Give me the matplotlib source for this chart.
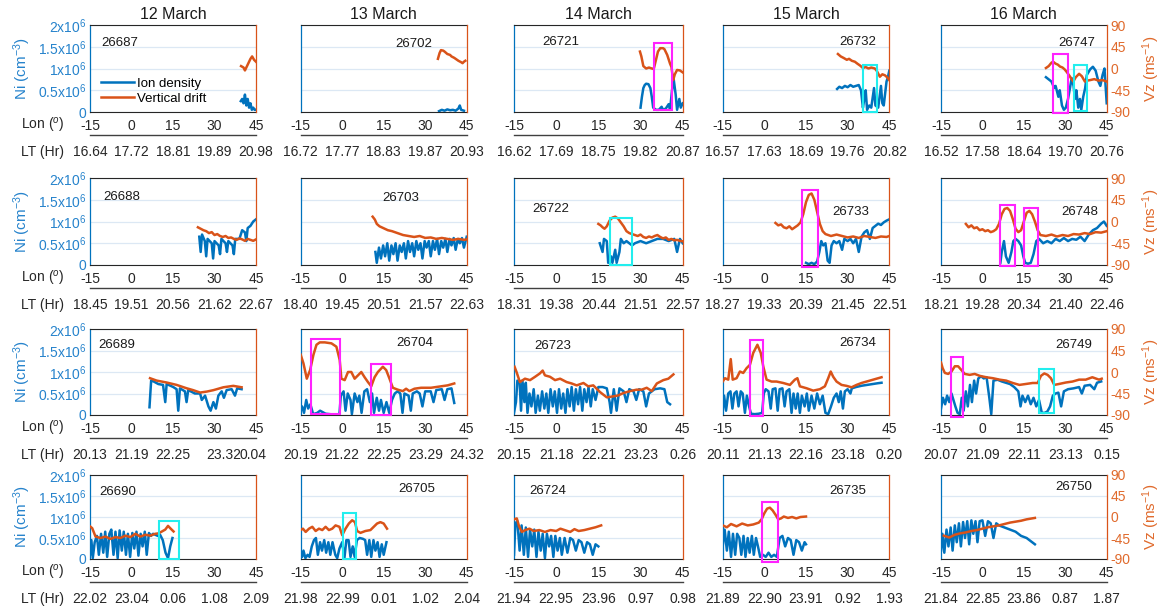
import numpy as np
import matplotlib.pyplot as plt
from matplotlib.patches import Rectangle

plt.rcParams['font.family'] = ['Liberation Sans', 'DejaVu Sans']
plt.rcParams['mathtext.fontset'] = 'custom'
plt.rcParams['mathtext.rm'] = 'Liberation Sans'
plt.rcParams['mathtext.it'] = 'Liberation Sans:italic'

# ---------------------------------------------------------------
# data: (lon, Ni [1e6 cm^-3]) and (lon, Vz [m/s]) per orbit
# ---------------------------------------------------------------
days = ['12 March', '13 March', '14 March', '15 March', '16 March']
orbits = [[26687, 26702, 26721, 26732, 26747],
          [26688, 26703, 26722, 26733, 26748],
          [26689, 26704, 26723, 26734, 26749],
          [26690, 26705, 26724, 26735, 26750]]
lon_ticks = [-15, 0, 15, 30, 45]
lon_labels = ['-15', '0', '15', '30', '45']
ni_ticks = [0, 0.5, 1, 1.5, 2]
ni_labels = ['0', '0.5x10$^6$', '1x10$^6$', '1.5x10$^6$', '2x10$^6$']
vz_ticks = [-90, -45, 0, 45, 90]
vz_labels = ['-90', '-45', '0', '45', '90']

lt_labels = {
    26687: ['16.64', '17.72', '18.81', '19.89', '20.98'],
    26702: ['16.72', '17.77', '18.83', '19.87', '20.93'],
    26721: ['16.62', '17.69', '18.75', '19.82', '20.87'],
    26732: ['16.57', '17.63', '18.69', '19.76', '20.82'],
    26747: ['16.52', '17.58', '18.64', '19.70', '20.76'],
    26688: ['18.45', '19.51', '20.56', '21.62', '22.67'],
    26703: ['18.40', '19.45', '20.51', '21.57', '22.63'],
    26722: ['18.31', '19.38', '20.44', '21.51', '22.57'],
    26733: ['18.27', '19.33', '20.39', '21.45', '22.51'],
    26748: ['18.21', '19.28', '20.34', '21.40', '22.46'],
    26689: ['20.13', '21.19', '22.25', '23.32', '0.04'],
    26704: ['20.19', '21.22', '22.25', '23.29', '24.32'],
    26723: ['20.15', '21.18', '22.21', '23.23', '0.26'],
    26734: ['20.11', '21.13', '22.16', '23.18', '0.20'],
    26749: ['20.07', '21.09', '22.11', '23.13', '0.15'],
    26690: ['22.02', '23.04', '0.06', '1.08', '2.09'],
    26705: ['21.98', '22.99', '0.01', '1.02', '2.04'],
    26724: ['21.94', '22.95', '23.96', '0.97', '0.98'],
    26735: ['21.89', '22.90', '23.91', '0.92', '1.93'],
    26750: ['21.84', '22.85', '23.86', '0.87', '1.87'],
}

# ---- row 1 ----
ni_26687 = [(39.5, 0.25), (40, 0.3), (40.5, 0.2), (41, 0.4), (41.5, 0.15), (42, 0.3),
            (42.5, 0.1), (43, 0.2), (43.5, 0.05), (44, 0.1), (44.5, 0.05), (45, 0.05)]
vz_26687 = [(39.6, 5), (40.5, 2), (41, -4), (42, 8), (43, 20), (43.6, 25), (44.3, 18), (45, 14)]

ni_26702 = [(35, 0.02), (36, 0.05), (37, 0.03), (38, 0.06), (39, 0.04), (40, 0.05),
            (41, 0.03), (42, 0.08), (42.5, 0.15), (43, 0.05), (44, 0.03)]
vz_26702 = [(34.6, 20), (35.2, 32), (35.7, 38), (36.5, 37), (37, 35), (38, 30), (39, 28),
            (39.5, 25), (40.5, 22), (41, 20), (42, 16), (43, 13), (43.5, 11), (44, 14), (44.5, 16)]

ni_26721 = [(30, 0.1), (30.5, 0.35), (31, 0.55), (31.5, 0.62), (32, 0.65), (32.8, 0.64),
            (33.5, 0.55), (34, 0.35), (34.5, 0.1), (35.5, 0.05), (36.5, 0.05), (37.5, 0.12),
            (38, 0.05), (39, 0.08), (40, 0.18), (40.5, 0.05), (41.2, 0.5), (41.8, 0.75),
            (42.5, 0.4), (43, 0.05), (43.8, 0.3), (44.3, 0.1), (45, 0.2)]
vz_26721 = [(29.8, 35), (30.3, 25), (31, 5), (32, 0), (33, 2), (34, 0), (34.7, -1), (35.5, 18),
            (36.2, 35), (37, 42), (38, 42), (38.5, 40), (39.5, 28), (40.5, 10), (41, 3),
            (41.6, -24), (42.2, -12), (43, -3), (44, -4), (44.5, -6), (45, -8)]

ni_26732 = [(26.2, 0.53), (27, 0.58), (28, 0.55), (29, 0.6), (30, 0.57), (31, 0.62), (32, 0.58),
            (33, 0.6), (34, 0.62), (34.8, 0.5), (35.5, 0.1), (36, 0.3), (36.5, 0.5), (37, 0.05),
            (37.8, 0.15), (38.5, 0.1), (39.5, 0.55), (40, 0.15), (41, 0.1), (42, 0.6),
            (42.5, 0.2), (43, 0.15), (44, 0.7), (44.5, 0.8), (45, 0.95)]
vz_26732 = [(26.5, 30), (27.5, 25), (28.5, 22), (29.7, 18), (30.5, 20), (31.5, 16), (32.6, 14),
            (33.5, 10), (34.5, 6), (35.5, 1), (36.5, 3), (37.5, 0), (38.5, 2), (39.8, 0),
            (40.5, -5), (41.6, -17), (42.5, -12), (43.4, -14), (44.2, -18), (45, -24)]

ni_26747 = [(23, 0.8), (24, 0.75), (25, 0.7), (26, 0.55), (26.5, 0.6), (27.5, 0.35), (28, 0.5),
            (28.8, 0.15), (29.5, 0.05), (30.2, 0.1), (31, 0.3), (31.7, 0.55), (32.3, 0.78),
            (33, 0.6), (33.5, 0.3), (34, 0.5), (34.7, 0.1), (35.3, 0.3), (35.8, 0.05),
            (36.5, 0.35), (37.2, 0.55), (37.8, 0.85), (39, 0.98), (40, 1.04), (41, 0.95),
            (42, 0.7), (42.7, 0.6), (43.5, 0.85), (44.2, 1.0), (44.6, 0.6), (45, 0.2)]
vz_26747 = [(23, 1), (24, 5), (25, 12), (25.6, 14), (26.5, 10), (27.3, 8), (28.1, 4), (29, 2),
            (29.8, -2), (30.5, -7), (31.5, -15), (32.3, -22), (32.9, -27), (33.8, -18),
            (35, -11), (36, -16), (37.1, -27), (38, -25), (39, -24), (40.5, -22), (42, -25),
            (43.5, -24), (45, -27)]

# ---- row 2 ----
ni_26688 = [(24.5, 0.65), (25, 0.3), (25.5, 0.7), (26.5, 0.55), (27, 0.2), (27.5, 0.6),
            (29, 0.5), (29.5, 0.15), (30, 0.55), (31.5, 0.45), (32, 0.25), (32.5, 0.6),
            (34, 0.5), (34.5, 0.3), (35, 0.55), (36.5, 0.45), (37, 0.25), (37.5, 0.6),
            (39, 0.6), (40, 0.8), (41, 0.75), (41.5, 0.55), (42, 0.85), (43, 0.9),
            (44, 1.0), (45, 1.05)]
vz_26688 = [(24, -12), (25, -15), (26, -18), (27, -20), (28, -24), (29, -22), (30, -28),
            (31, -26), (32, -30), (33, -32), (34, -30), (35, -34), (36, -33), (37, -36),
            (38, -38), (39, -35), (40, -37), (41, -40), (42, -36), (43, -38), (44, -40), (45, -37)]

ni_26703 = [(12, 0.3), (12.5, 0.05), (13.3, 0.4), (14, 0.15), (14.8, 0.45), (15.5, 0.2),
            (16.3, 0.5), (17, 0.1), (17.8, 0.45), (18.5, 0.25), (19.3, 0.5), (20, 0.1),
            (20.8, 0.45), (21.5, 0.3), (22.3, 0.5), (23, 0.15), (23.8, 0.55), (24.5, 0.3),
            (25.3, 0.5), (26, 0.2), (26.8, 0.55), (27.5, 0.35), (28.3, 0.5), (29, 0.15),
            (29.8, 0.55), (30.5, 0.4), (31.3, 0.55), (32, 0.2), (32.8, 0.55), (33.5, 0.35),
            (34.3, 0.6), (35, 0.25), (35.8, 0.55), (36.5, 0.4), (37.3, 0.6), (38, 0.3),
            (38.8, 0.6), (39.5, 0.45), (40.3, 0.62), (41, 0.35), (41.8, 0.6), (42.5, 0.5),
            (43.3, 0.62), (44, 0.4), (45, 0.65)]
vz_26703 = [(11, 10), (11.8, 4), (12.5, -5), (13.5, -10), (15, -14), (16.5, -18), (18, -20),
            (20, -24), (22, -28), (24, -30), (26, -32), (28, -30), (30, -34), (32, -33),
            (34, -36), (36, -34), (38, -36), (40, -38), (42, -36), (44, -38), (45, -37)]

ni_26722 = [(15.5, 0.5), (16.5, 0.3), (17, 0.6), (18, 0.55), (18.5, 0.05), (19.5, 0.2),
            (20, 0.05), (21, 0.35), (21.5, 0.05), (22.5, 0.3), (23, 0.6), (24, 0.5),
            (25, 0.55), (27, 0.45), (28, 0.5), (30, 0.55), (32, 0.5), (34, 0.55), (36, 0.6),
            (38, 0.6), (40, 0.55), (42, 0.6), (43, 0.3), (44, 0.6), (45, 0.5)]
vz_26722 = [(15, -5), (15.8, -8), (16.5, -12), (17.2, -15), (18, -10), (19, 2), (20, 8),
            (21, 10), (22, 6), (23, -2), (24, -10), (25, -20), (26, -24), (27, -26),
            (28, -28), (29, -30), (30, -27), (31, -32), (32, -34), (33, -31), (34, -33),
            (35, -30), (36, -28), (37, -32), (38, -35), (39, -33), (40, -38), (41, -36),
            (42, -39), (43, -38), (44, -40), (45, -41)]

ni_26733 = [(15, 0.05), (16, 0.02), (17, 0.05), (18, 0.02), (19, 0.08), (19.8, 0.3),
            (20.5, 0.55), (21.2, 0.45), (22, 0.5), (22.8, 0.1), (23.5, 0.05), (24.2, 0.45),
            (25, 0.55), (26, 0.5), (27, 0.55), (28, 0.35), (28.8, 0.6), (30, 0.55), (31, 0.6),
            (32, 0.5), (33, 0.6), (34, 0.3), (35, 0.65), (36, 0.75), (37, 0.8), (38, 0.6),
            (39, 0.85), (40, 0.9), (41, 0.95), (42, 0.92), (43, 0.98), (44, 1.02), (45, 1.05)]
vz_26733 = [(4, -3), (5, -8), (6, -6), (7, -12), (8, -14), (9, -10), (10, -16), (11, -12),
            (12, -8), (13, -2), (14, 15), (15, 40), (16, 55), (17, 58), (18, 45), (19, 20),
            (20, -5), (21, -20), (22, -26), (23, -28), (24, -30), (26, -27), (28, -30),
            (30, -33), (32, -31), (34, -34), (36, -30), (38, -32), (40, -34), (42, -31),
            (44, -32), (45, -30)]

ni_26748 = [(6.5, 0.05), (7, 0.3), (7.8, 0.55), (8.5, 0.2), (9.5, 0.05), (10.5, 0.3),
            (11.2, 0.55), (12, 0.6), (13, 0.55), (14, 0.45), (14.8, 0.2), (15.5, 0.05),
            (16.5, 0.03), (17.5, 0.05), (18.5, 0.25), (19.5, 0.55), (20.5, 0.6), (22, 0.5),
            (23.5, 0.55), (25, 0.5), (26.5, 0.6), (28, 0.55), (29.5, 0.62), (31, 0.55),
            (32.5, 0.6), (34, 0.58), (35.5, 0.65), (37, 0.55), (38.5, 0.7), (40, 0.8),
            (41.5, 0.85), (43, 0.95), (44, 1.0), (45, 0.9)]
vz_26748 = [(-6, -5), (-5, -12), (-4, -8), (-3, -14), (-2, -12), (-1, -18), (0, -16), (1, -20),
            (2, -18), (3, -22), (4, -20), (5, -16), (6, -5), (7, 15), (8, 26), (9, 28),
            (10, 22), (11, 5), (12, -15), (13, -22), (14, -18), (15, 0), (16, 18), (17, 22),
            (18, 15), (19, 0), (20, -18), (21, -28), (23, -30), (25, -27), (27, -31),
            (29, -28), (31, -30), (33, -26), (35, -27), (37, -24), (39, -26), (41, -22),
            (43, -23), (45, -20)]

# ---- row 3 ----
ni_26689 = [(6.5, 0.18), (7.1, 0.8), (8, 0.78), (9.7, 0.72), (11.4, 0.7), (12.2, 0.3),
            (12.7, 0.72), (15.1, 0.65), (16.3, 0.6), (16.9, 0.1), (17.5, 0.62), (19.3, 0.55),
            (19.9, 0.3), (20.5, 0.58), (22.9, 0.5), (24.8, 0.5), (25.4, 0.35), (26.6, 0.45),
            (27.8, 0.2), (28.6, 0.1), (29.6, 0.3), (30.5, 0.15), (31.4, 0.45), (32.6, 0.55),
            (33.4, 0.4), (34.4, 0.58), (36.2, 0.6), (37.4, 0.45), (38.2, 0.62), (39.8, 0.6)]
vz_26689 = [(6.7, -13), (9.1, -18), (12.7, -22), (16.3, -27), (19.9, -34), (22.3, -38),
            (24.8, -43), (27.2, -41), (29.6, -38), (33.2, -32), (36.8, -29), (39.8, -32)]

ni_26704 = [(-15, 0.1), (-14.5, 0.2), (-13.8, 0.05), (-13, 0.35), (-12.3, 0.15), (-11.5, 0.25),
            (-10.5, 0.02), (-9, 0.05), (-8, 0.1), (-6, 0.03), (-3, 0.01), (-1, 0.02),
            (-0.5, 0.45), (0.5, 0.55), (1.2, 0.1), (2, 0.5), (3, 0.35), (3.5, 0.02), (4.5, 0.5),
            (5.5, 0.3), (6.2, 0.45), (7, 0.05), (8, 0.55), (9, 0.6), (10, 0.3), (10.8, 0.5),
            (11.5, 0.05), (12.5, 0.4), (13.3, 0.1), (14, 0.35), (15, 0.05), (16, 0.3),
            (17, 0.05), (18, 0.35), (19, 0.5), (20, 0.55), (21, 0.5), (21.8, 0.05), (22.5, 0.5),
            (24, 0.45), (24.8, 0.1), (25.5, 0.5), (27, 0.55), (28, 0.5), (29, 0.2), (30, 0.55),
            (32, 0.55), (33, 0.3), (34, 0.58), (36, 0.6), (37, 0.35), (38, 0.6), (39.5, 0.62),
            (40.5, 0.28)]
vz_26704 = [(-15, 36), (-14, 18), (-12.8, -14), (-11.6, 4), (-10.4, 36), (-9.3, 57), (-8.1, 62),
            (-6.3, 62), (-3.9, 60), (-2.1, 53), (-0.9, 25), (-0.3, -14), (0.9, -17), (2.1, 0),
            (3.3, 0), (4.5, -14), (5.7, -7), (6.9, 0), (8.1, -11), (9.3, -21), (10.5, -30),
            (11.7, -11), (12.9, 0), (14.7, 11), (15.9, 4), (17.1, -14), (18.3, -33), (20.1, -37),
            (21.9, -40), (23.1, -35), (24.3, -40), (26.1, -35), (28.5, -33), (32.1, -33),
            (35.7, -30), (38.1, -28), (40.5, -24)]

ni_26723 = [(-15, 0.05), (-14.3, 0.3), (-13.8, 0.8), (-13, 0.75), (-12.5, 0.1), (-12, 0.8),
            (-11.3, 0.3), (-10.8, 0.75), (-10.2, 0.05), (-9.5, 0.5), (-8.8, 0.2), (-8, 0.6),
            (-7.3, 0.05), (-6.5, 0.45), (-5.8, 0.1), (-5, 0.55), (-4.2, 0.15), (-3.5, 0.5),
            (-2.8, 0.05), (-2, 0.6), (-1.2, 0.2), (-0.5, 0.55), (0.3, 0.05), (1, 0.6), (1.8, 0.15),
            (2.5, 0.5), (3.3, 0.05), (4, 0.6), (4.8, 0.2), (5.5, 0.65), (6.3, 0.1), (7, 0.6),
            (7.8, 0.25), (8.5, 0.65), (9.3, 0.1), (10, 0.6), (10.8, 0.3), (11.5, 0.65),
            (12.3, 0.2), (13, 0.6), (14, 0.35), (15, 0.65), (16.5, 0.65), (18, 0.62), (19, 0.3),
            (19.5, 0.05), (20.5, 0.6), (21.5, 0.1), (22.5, 0.62), (24, 0.55), (25, 0.3),
            (26, 0.6), (27.5, 0.55), (28.5, 0.35), (29.5, 0.6), (31, 0.55), (32, 0.2), (33, 0.5),
            (35, 0.6), (37, 0.62), (38.5, 0.6), (39.5, 0.3), (40.5, 0.25)]
vz_26723 = [(-14.8, 11), (-14.1, 0), (-12.9, -21), (-11.1, -14), (-9.3, -17), (-7.5, -10),
            (-5.8, -3), (-4.8, 3), (-4.0, -7), (-2.2, -10), (-0.4, -17), (1.4, -14), (3.7, -21),
            (5.5, -24), (7.3, -28), (9.7, -23), (11.4, -30), (13.2, -28), (15.6, -42),
            (18.0, -53), (20.3, -51), (22.1, -49), (23.9, -44), (26.3, -40), (28.6, -37),
            (30.4, -37), (32.2, -33), (34.0, -40), (35.8, -24), (38.1, -17), (39.9, -14),
            (41.7, -5)]

ni_26734 = [(-15, 0.1), (-14.5, 0.45), (-13.8, 0.1), (-13, 0.5), (-12.2, 0.55), (-11.5, 0.15),
            (-10.8, 0.5), (-10, 0.55), (-9.3, 0.2), (-8.5, 0.55), (-7.8, 0.5), (-7, 0.05),
            (-6.3, 0.45), (-5.5, 0.2), (-4.8, 0.03), (-3.5, 0.02), (-2, 0.03), (-0.8, 0.05),
            (-0.2, 0.5), (0.5, 0.6), (1.5, 0.55), (2.3, 0.15), (3, 0.6), (4, 0.62), (4.8, 0.1),
            (5.5, 0.6), (6.5, 0.62), (7.3, 0.2), (8, 0.55), (9, 0.6), (9.8, 0.05), (10.5, 0.5),
            (11.3, 0.15), (12, 0.5), (12.8, 0.05), (13.5, 0.45), (14.5, 0.2), (15.3, 0.5),
            (16, 0.1), (17, 0.45), (18, 0.15), (19, 0.5), (20, 0.25), (21, 0.45), (22, 0.05),
            (23, 0.02), (24, 0.2), (25, 0.4), (26, 0.5), (26.8, 0.3), (27.5, 0.55), (28.3, 0.15),
            (29, 0.55), (30, 0.6), (31, 0.5), (31.5, 0.62), (33, 0.65), (35, 0.68), (37, 0.7),
            (39, 0.72), (41, 0.74), (42.2, 0.75)]
vz_26734 = [(-15, -20), (-14.2, -13), (-13, -16), (-12.1, 27), (-11.4, -16), (-10, -13),
            (-8.8, 1), (-7.6, -2), (-6.4, 8), (-5.2, 15), (-4, 40), (-2.5, 57), (-1.3, 40),
            (-0.4, 12), (0.8, -16), (2.6, -20), (4.4, -20), (6.8, -23), (9.2, -27), (11, -16),
            (11.9, -13), (12.8, -30), (15.2, -34), (17.6, -39), (20, -36), (21.8, -30),
            (23, -13), (23.9, 1), (24.8, -10), (26, -20), (27.8, -27), (29.6, -29), (31.4, -32),
            (33.2, -27), (35, -23), (36.8, -20), (39.2, -16), (42.2, -11)]

ni_26749 = [(-15, 0.15), (-14.3, 0.4), (-13.5, 0.25), (-12.8, 0.45), (-12, 0.3), (-11.2, 0.5),
            (-10.5, 0.35), (-9.8, 0.2), (-9, 0.05), (-8.2, 0.02), (-7.5, 0.4), (-6.8, 0.1),
            (-6, 0.55), (-5.3, 0.2), (-4.5, 0.7), (-3.8, 0.3), (-3, 0.8), (-2.3, 0.5),
            (-1.5, 0.85), (-0.5, 0.9), (0.5, 0.85), (1.5, 0.88), (2.5, 0.4), (3.2, 0.02),
            (4, 0.8), (5.5, 0.82), (7, 0.78), (8.5, 0.75), (10, 0.72), (11.5, 0.65), (13, 0.55),
            (13.8, 0.2), (14.5, 0.45), (15.5, 0.3), (16.5, 0.45), (17.5, 0.25), (18.5, 0.4),
            (19.5, 0.2), (20.5, 0.35), (21.5, 0.05), (22.5, 0.05), (23.5, 0.08), (24.5, 0.2),
            (25.5, 0.45), (26.5, 0.5), (27.5, 0.52), (28.5, 0.2), (29.5, 0.55), (31, 0.6),
            (33, 0.62), (35, 0.65), (36, 0.5), (37, 0.68), (39, 0.7), (40.5, 0.6), (41.5, 0.75),
            (43, 0.78)]
vz_26749 = [(-15, 20), (-14.4, 8), (-13.6, -2), (-12.4, -4), (-11.2, 1), (-10, 12), (-8.8, 12),
            (-7.6, 4), (-6.4, -4), (-4.6, -6), (-2.8, -4), (-1, -8), (1.4, -11), (3.8, -13),
            (6.2, -16), (8.6, -18), (11, -23), (13.4, -27), (15.8, -25), (18.2, -23), (20, -23),
            (21.2, -8), (22.4, -3), (23.6, -6), (24.8, -13), (26, -27), (27.8, -25), (30.2, -22),
            (32.6, -20), (35, -16), (37.4, -16), (39.8, -11), (42.2, -16), (43.2, -14)]

# ---- row 4 ----
ni_26690 = [(-15, 0.1), (-14.5, 0.45), (-14, 0.02), (-13.3, 0.4), (-12.5, 0.55), (-11.8, 0.1),
            (-11, 0.6), (-10.2, 0.15), (-9.5, 0.65), (-8.8, 0.05), (-8, 0.6), (-7.3, 0.7),
            (-6.5, 0.1), (-5.8, 0.65), (-5, 0.02), (-4.3, 0.68), (-3.5, 0.2), (-2.8, 0.65),
            (-2, 0.1), (-1.3, 0.6), (-0.5, 0.05), (0.3, 0.62), (1, 0.25), (1.8, 0.65),
            (2.5, 0.08), (3.3, 0.6), (4, 0.3), (4.8, 0.65), (5.5, 0.1), (6.3, 0.62), (7, 0.55),
            (7.8, 0.6), (8.5, 0.58), (9.5, 0.55), (10.3, 0.58), (11.3, 0.45), (12.3, 0.15),
            (13.2, 0.02), (14, 0.3), (14.8, 0.5)]
vz_26690 = [(-15, -20), (-14.2, -24), (-13, -42), (-11.2, -45), (-9.4, -42), (-7.6, -47),
            (-5.8, -43), (-4, -45), (-2.2, -40), (-0.4, -43), (1.4, -36), (3.2, -42), (5, -38),
            (6.8, -40), (8.6, -36), (9.8, -35), (11, -31), (12.2, -27), (13.2, -19), (14, -24),
            (15.2, -31)]

ni_26705 = [(-15, 0.15), (-14.5, 0.05), (-14, 0.2), (-13.3, 0.02), (-12.5, 0.1), (-11.8, 0.05),
            (-11, 0.3), (-10.2, 0.45), (-9.5, 0.5), (-8.8, 0.1), (-8, 0.4), (-7.3, 0.2),
            (-6.5, 0.45), (-5.8, 0.15), (-5, 0.4), (-4.3, 0.1), (-3.5, 0.4), (-2.5, 0.1),
            (-1.8, 0.02), (-1, 0.25), (0, 0.4), (0.8, 0.02), (1.5, 0.45), (2.3, 0.45), (3, 0.05),
            (3.8, 0.3), (4.5, 0.05), (5.3, 0.45), (6.3, 0.5), (7.5, 0.48), (8.3, 0.45), (9, 0.1),
            (9.8, 0.45), (10.5, 0.05), (11.3, 0.45), (12, 0.2), (12.8, 0.4), (13.5, 0.05),
            (14.3, 0.35), (15, 0.1), (16, 0.4)]
vz_26705 = [(-15, -28), (-14.2, -25), (-13.2, -32), (-12, -25), (-10.8, -21), (-9.6, -30),
            (-8.4, -25), (-7.2, -28), (-6, -21), (-4.8, -28), (-3.6, -25), (-2.4, -18),
            (-1, -21), (0, -39), (1.2, -25), (2.4, -14), (3.6, -7), (4.6, -11), (5.4, -30),
            (6.6, -34), (8.4, -30), (10.2, -28), (11.4, -21), (12.6, -14), (13.8, -11),
            (15, -14), (16.2, -25)]

ni_26724 = [(-15, 0.1), (-14.5, 0.85), (-13.8, 0.9), (-13, 0.2), (-12.3, 0.8), (-11.5, 0.1),
            (-10.8, 0.75), (-10, 0.05), (-9.3, 0.7), (-8.5, 0.3), (-7.8, 0.7), (-7, 0.05),
            (-6.3, 0.65), (-5.5, 0.2), (-4.8, 0.6), (-4, 0.02), (-3.3, 0.6), (-2.5, 0.3),
            (-1.8, 0.55), (-1, 0.05), (-0.3, 0.55), (0.5, 0.2), (1.3, 0.5), (2, 0.1), (3, 0.5),
            (4, 0.15), (5, 0.5), (6, 0.45), (7, 0.2), (8, 0.45), (9, 0.4), (10, 0.15),
            (11, 0.4), (12, 0.35), (13, 0.1), (14, 0.35), (15, 0.3)]
vz_26724 = [(-15, -5), (-14, -3), (-13.2, -20), (-12.2, -32), (-11, -28), (-9.5, -25), (-8, -30),
            (-6, -28), (-4, -32), (-2, -28), (0, -30), (1.5, -25), (3, -28), (5, -32),
            (6.5, -26), (8, -30), (10, -28), (12, -25), (14, -22), (16, -18)]

ni_26735 = [(-15, 0.3), (-14.3, 0.7), (-13.5, 0.2), (-12.8, 0.65), (-12, 0.05), (-11.3, 0.6),
            (-10.5, 0.1), (-9.8, 0.6), (-9, 0.5), (-8.3, 0.1), (-7.5, 0.55), (-6.8, 0.05),
            (-6, 0.5), (-5.3, 0.15), (-4.5, 0.55), (-3.8, 0.1), (-3, 0.5), (-2.3, 0.3),
            (-1.5, 0.05), (-0.5, 0.1), (0.5, 0.05), (1.5, 0.15), (2.5, 0.05), (3.5, 0.1),
            (4.5, 0.05), (5.5, 0.5), (6.5, 0.55), (7.5, 0.3), (8.5, 0.5), (9.5, 0.45),
            (10.5, 0.1), (11.5, 0.45), (12.5, 0.4), (13.5, 0.2), (14.5, 0.4), (15, 0.35)]
vz_26735 = [(-15, -18), (-13.5, -22), (-12, -15), (-10, -20), (-8, -14), (-6, -18), (-4, -16),
            (-2, -12), (-1, -5), (0, 8), (1, 18), (2, 20), (3, 14), (4, 5), (5, -5), (6, -3),
            (7, 1), (8.5, -2), (10, 0), (11.5, -3), (13, 0), (15, 1)]

ni_26750 = [(-15, 0.2), (-14.5, 0.6), (-13.8, 0.15), (-13, 0.7), (-12.3, 0.3), (-11.5, 0.75),
            (-10.8, 0.2), (-10, 0.8), (-9.3, 0.4), (-8.5, 0.85), (-7.8, 0.3), (-7, 0.88),
            (-6.3, 0.5), (-5.5, 0.9), (-4.8, 0.35), (-4, 0.92), (-3.3, 0.6), (-2.5, 0.9),
            (-1.8, 0.4), (-1, 0.9), (0, 0.92), (1, 0.55), (2, 0.9), (3, 0.85), (4, 0.5),
            (5, 0.85), (6, 0.8), (8, 0.75), (10, 0.7), (12, 0.65), (14, 0.55), (16, 0.5),
            (18, 0.4), (19, 0.35)]
vz_26750 = [(-14, -40), (-12, -44), (-10, -38), (-8, -35), (-6, -33), (-4, -30), (-2, -28),
            (0, -25), (2, -22), (4, -20), (6, -18), (8, -15), (10, -12), (12, -10), (14, -8),
            (16, -5), (18, -3), (19, -2)]

# highlighted intervals: (lon0, lon1, vz0, vz1)
magenta_boxes = {
    26721: [(34.8, 41.2, -86, 52)],
    26747: [(25.4, 31.1, -92, 31)],
    26733: [(13.6, 19.3, -94, 65)],
    26748: [(6.4, 11.8, -93, 34), (15.1, 20.2, -93, 27)],
    26704: [(-11.3, -0.9, -88, 69), (10.5, 17.7, -90, 16)],
    26734: [(-5.2, -0.4, -92, 66)],
    26749: [(-11.5, -7.0, -94, 32)],
    26735: [(-0.85, 4.9, -96, 32)],
}
cyan_boxes = {
    26732: [(35.5, 40.6, -90, 7)],
    26747: [(33.2, 37.8, -88, 7)],
    26722: [(19.0, 27.0, -90, 7)],
    26749: [(20.6, 26.0, -85, 6)],
    26690: [(10.0, 17.0, -91, -9)],
    26705: [(0.2, 5.0, -90, 9)],
}

# ---------------------------------------------------------------
# layout / style
# ---------------------------------------------------------------
BLUE = '#0072BD'
ORANGE = '#D95319'
BLUE_TXT = '#2683cc'
ORANGE_TXT = '#e06a2c'
DARK = '#262626'

W, H = 1165, 613
col_left = [90, 300.7, 514, 722.7, 941]
col_width = [166, 166, 168.7, 166.6, 165.7]
row_top = [25, 178, 329, 475]
row_bot = [112, 265, 415, 559]

tag_pos = {
    26687: (0.18, 0.79), 26702: (0.68, 0.78), 26721: (0.28, 0.81), 26732: (0.81, 0.80),
    26747: (0.82, 0.79), 26688: (0.19, 0.78), 26703: (0.60, 0.77), 26722: (0.22, 0.64),
    26733: (0.77, 0.61), 26748: (0.84, 0.61), 26689: (0.16, 0.81), 26704: (0.69, 0.84),
    26723: (0.23, 0.80), 26734: (0.81, 0.84), 26749: (0.80, 0.81), 26690: (0.17, 0.80),
    26705: (0.70, 0.83), 26724: (0.20, 0.81), 26735: (0.75, 0.81), 26750: (0.80, 0.86),
}
lt_pos_override = {26689: [-15, 0, 15, 33.2, 43.9]}

fig = plt.figure(figsize=(W / 100, H / 100), dpi=100)


def split(pairs):
    a = np.array(pairs, dtype=float)
    return a[:, 0], a[:, 1]


for r in range(4):
    for c in range(5):
        orb = orbits[r][c]
        rect = [col_left[c] / W, 1 - row_bot[r] / H, col_width[c] / W,
                (row_bot[r] - row_top[r]) / H]
        ax = fig.add_axes(rect)
        ax2 = ax.twinx()

        # ion density (left axis)
        x, y = split(globals()[f'ni_{orb}'])
        l1, = ax.plot(x, y, color=BLUE, lw=1.8, solid_joinstyle='round')
        ax.set_xlim(-15, 45)
        ax.set_ylim(0, 2)
        ax.set_yticks(ni_ticks)
        ax.yaxis.grid(True, color='#dce8f4', lw=0.9)
        ax.set_axisbelow(True)
        ax.set_xticks(lon_ticks)
        ax.set_xticklabels(lon_labels)
        ax.tick_params(axis='x', length=0, pad=5, labelsize=10, labelcolor=DARK)
        if c == 0:
            ax.set_yticklabels(ni_labels)
            ax.tick_params(axis='y', length=0, pad=2.5, labelsize=10, labelcolor=BLUE_TXT)
        else:
            ax.tick_params(axis='y', length=0, labelleft=False)

        # vertical drift (right axis)
        x, y = split(globals()[f'vz_{orb}'])
        l2, = ax2.plot(x, y, color=ORANGE, lw=1.8, solid_joinstyle='round')
        ax2.set_ylim(-90, 90)
        ax2.set_yticks(vz_ticks)
        if c == 4:
            ax2.set_yticklabels(vz_labels)
            ax2.tick_params(axis='y', length=0, pad=3, labelsize=10, labelcolor=ORANGE_TXT)
        else:
            ax2.tick_params(axis='y', length=0, labelright=False)

        for (x0, x1, v0, v1) in magenta_boxes.get(orb, []):
            ax2.add_patch(Rectangle((x0, v0), x1 - x0, v1 - v0, fill=False,
                                    edgecolor='#ff22ff', lw=1.5, clip_on=False, zorder=5))
        for (x0, x1, v0, v1) in cyan_boxes.get(orb, []):
            ax2.add_patch(Rectangle((x0, v0), x1 - x0, v1 - v0, fill=False,
                                    edgecolor='#22eeee', lw=1.5, clip_on=False, zorder=5))

        # spines
        for s in ['top', 'bottom']:
            ax.spines[s].set_color(DARK)
            ax.spines[s].set_linewidth(0.8)
        ax.spines['left'].set_color(BLUE)
        ax.spines['left'].set_linewidth(0.9)
        ax.spines['right'].set_visible(False)
        for s in ['top', 'bottom', 'left']:
            ax2.spines[s].set_visible(False)
        ax2.spines['right'].set_color(ORANGE)
        ax2.spines['right'].set_linewidth(0.9)

        # local time axis below longitude
        ax3 = ax.twiny()
        ax3.set_xlim(-15, 45)
        ax3.xaxis.tick_bottom()
        ax3.spines['bottom'].set_position(('outward', 16.5))
        ax3.spines['bottom'].set_visible(True)
        ax3.spines['bottom'].set_color('#404040')
        ax3.spines['bottom'].set_linewidth(1.0)
        for s in ['top', 'left', 'right']:
            ax3.spines[s].set_visible(False)
        ax3.set_xticks(lt_pos_override.get(orb, lon_ticks))
        ax3.set_xticklabels(lt_labels[orb])
        ax3.tick_params(axis='x', length=0, pad=7.5, labelsize=10, labelcolor=DARK)

        ax2.text(*tag_pos[orb], str(orb), transform=ax.transAxes, ha='center',
                 va='center', fontsize=9.5, color='#1a1a1a', zorder=6)

        if r == 0:
            ax.set_title(days[c], fontsize=11.5, pad=4, color='#1a1a1a')
        if c == 0:
            ax.annotate('Lon ($^{o}$)', xy=(0, 0), xycoords='axes fraction',
                        xytext=(-69, -13), textcoords='offset pixels',
                        ha='left', va='center', fontsize=10, color=DARK)
            ax.annotate('LT (Hr)', xy=(0, 0), xycoords='axes fraction',
                        xytext=(-69, -40), textcoords='offset pixels',
                        ha='left', va='center', fontsize=10, color=DARK)
            fig.text(22 / W, 1 - (row_top[r] + row_bot[r]) / 2 / H, 'Ni (cm$^{-3}$)',
                     rotation=90, ha='center', va='center', fontsize=11, color=BLUE_TXT)
        if c == 4:
            fig.text(1151 / W, 1 - (row_top[r] + row_bot[r]) / 2 / H, 'Vz (ms$^{-1}$)',
                     rotation=90, ha='center', va='center', fontsize=11, color=ORANGE_TXT)
        if r == 0 and c == 0:
            ax2.legend([l1, l2], ['Ion density', 'Vertical drift'], loc='lower left',
                       bbox_to_anchor=(0.065, 0.08), frameon=False, fontsize=9.5,
                       handlelength=2.5, handletextpad=0.25, labelspacing=0.25,
                       borderpad=0, borderaxespad=0)

fig.savefig('out.png', dpi=100)
